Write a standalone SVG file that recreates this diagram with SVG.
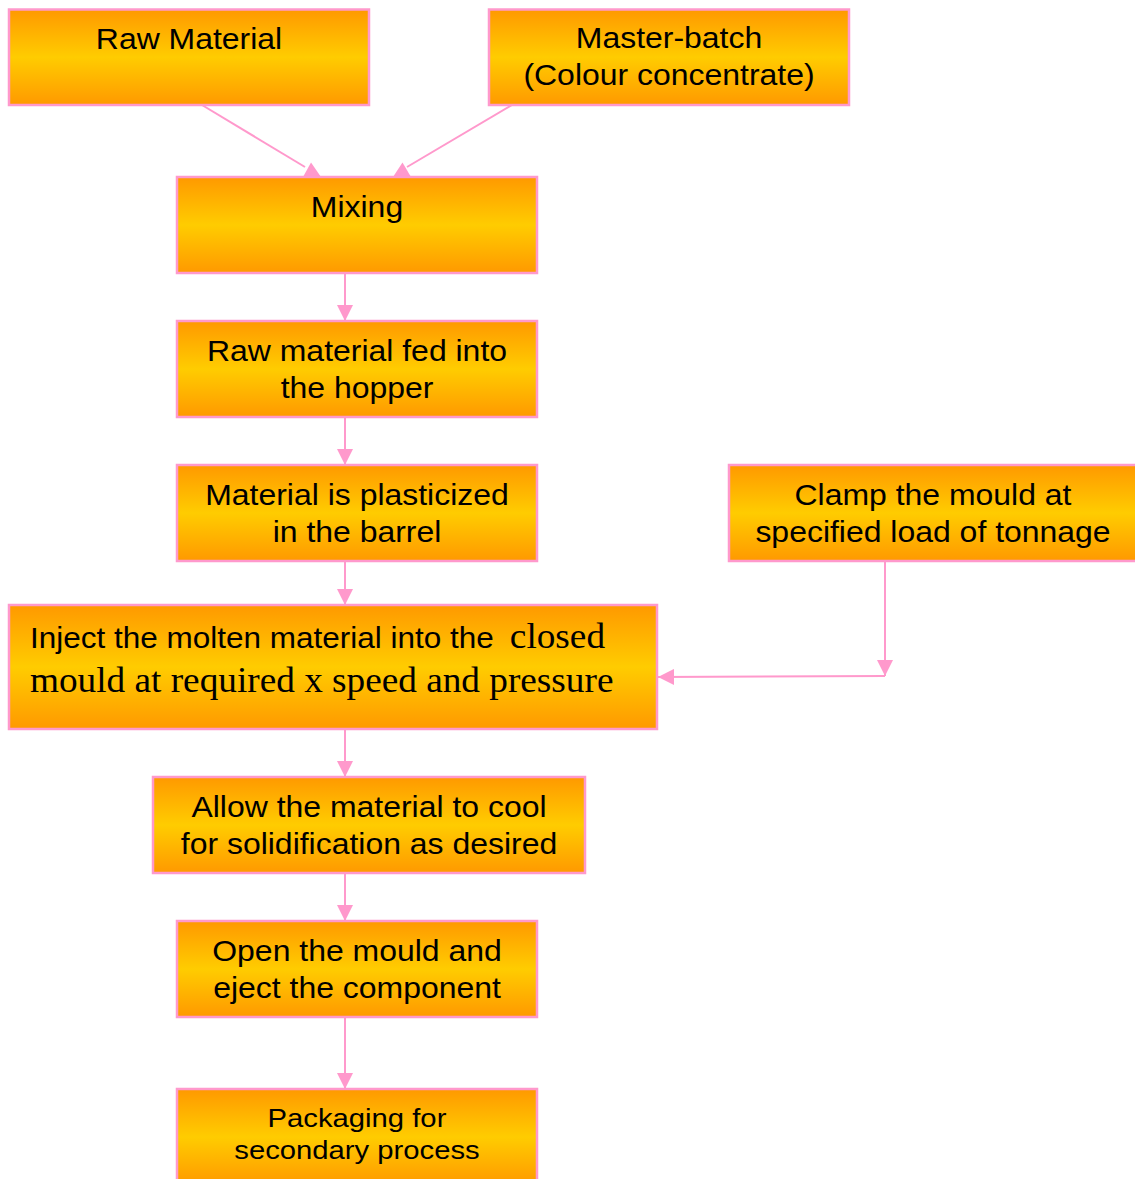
<svg xmlns="http://www.w3.org/2000/svg" xmlns:xlink="http://www.w3.org/1999/xlink" width="1135" height="1179" viewBox="0 0 1135 1179">
<defs>
<linearGradient id="gold" x1="0" y1="0" x2="0" y2="1">
<stop offset="0" stop-color="#ff9900"/>
<stop offset="0.5" stop-color="#ffcc00"/>
<stop offset="1" stop-color="#ff9900"/>
</linearGradient>
<marker id="arr" markerUnits="userSpaceOnUse" markerWidth="16" markerHeight="16" refX="16" refY="8" orient="auto">
<path d="M0,0 L16,8 L0,16 z" fill="#ff99cc"/>
</marker>
<style>
.box{fill:url(#gold);stroke:#ff99cc;stroke-width:2.5}
.t{font-family:"Liberation Sans",Arial,sans-serif;font-size:30px;fill:#000;text-anchor:middle}
.ts{font-family:"Liberation Sans",Arial,sans-serif;font-size:30px;fill:#000}
.sr{font-family:"Liberation Serif","Times New Roman",serif;font-size:35.5px;fill:#000}
.c{fill:none;stroke:#ff99cc;stroke-width:2}
.a{marker-end:url(#arr)}
.tri{fill:#ff99cc}
</style>
</defs>
<g id="connectors">
<line class="c" x1="202" y1="105" x2="305" y2="167"/>
<polygon class="tri" points="303,177 311,162.5 321,177"/>
<line class="c" x1="512" y1="105" x2="407" y2="167"/>
<polygon class="tri" points="393,177 402.5,162.5 411,177"/>
<line class="c a" x1="345" y1="273" x2="345" y2="321"/>
<line class="c a" x1="345" y1="417" x2="345" y2="465"/>
<line class="c a" x1="345" y1="561" x2="345" y2="605"/>
<line class="c a" x1="345" y1="729" x2="345" y2="777"/>
<line class="c a" x1="345" y1="873" x2="345" y2="921"/>
<line class="c a" x1="345" y1="1017" x2="345" y2="1089"/>
<line class="c a" x1="885" y1="557" x2="885" y2="676"/>
<line class="c a" x1="885" y1="676" x2="658" y2="677"/>
</g>
<g id="n1">
<rect class="box" x="9" y="9.5" width="360" height="95.5"/>
<text class="t" transform="translate(189 0) scale(1.065 1)" x="0" y="49">Raw Material</text>
</g>
<g id="n2">
<rect class="box" x="489" y="9.5" width="360" height="95.5"/>
<text class="t" transform="translate(669 0) scale(1.065 1)" x="0" y="48.5">Master-batch</text>
<text class="t" transform="translate(669 0) scale(1.065 1)" x="0" y="85.5">(Colour concentrate)</text>
</g>
<g id="n3">
<rect class="box" x="177" y="177" width="360" height="96"/>
<text class="t" transform="translate(357 0) scale(1.065 1)" x="0" y="217">Mixing</text>
</g>
<g id="n4">
<rect class="box" x="177" y="321" width="360" height="96"/>
<text class="t" transform="translate(357 0) scale(1.065 1)" x="0" y="361.5">Raw material fed into</text>
<text class="t" transform="translate(357 0) scale(1.065 1)" x="0" y="398.5">the hopper</text>
</g>
<g id="n5">
<rect class="box" x="177" y="465" width="360" height="96"/>
<text class="t" transform="translate(357 0) scale(1.065 1)" x="0" y="505.5">Material is plasticized</text>
<text class="t" transform="translate(357 0) scale(1.065 1)" x="0" y="542.5">in the barrel</text>
</g>
<g id="n6">
<rect class="box" x="729" y="465" width="408" height="96"/>
<text class="t" transform="translate(933 0) scale(1.065 1)" x="0" y="505.5">Clamp the mould at</text>
<text class="t" transform="translate(933 0) scale(1.065 1)" x="0" y="542.5">specified load of tonnage</text>
</g>
<g id="n7">
<rect class="box" x="9" y="605" width="648" height="124"/>
<text class="ts" transform="translate(30 0) scale(1.05 1)" x="0" y="648.5">Inject the molten material into the <tspan class="sr" x="457">closed</tspan></text>
<text class="sr" transform="translate(30 0) scale(1.05 1)" x="0" y="692">mould at required x speed and pressure</text>
</g>
<g id="n8">
<rect class="box" x="153" y="777" width="432" height="96"/>
<text class="t" transform="translate(369 0) scale(1.065 1)" x="0" y="817.5">Allow the material to cool</text>
<text class="t" transform="translate(369 0) scale(1.065 1)" x="0" y="854.5">for solidification as desired</text>
</g>
<g id="n9">
<rect class="box" x="177" y="921" width="360" height="96"/>
<text class="t" transform="translate(357 0) scale(1.065 1)" x="0" y="961.5">Open the mould and</text>
<text class="t" transform="translate(357 0) scale(1.065 1)" x="0" y="998.5">eject the component</text>
</g>
<g id="n10">
<rect class="box" x="177" y="1089" width="360" height="96"/>
<text class="t" style="font-size:26px" transform="translate(357 0) scale(1.125 1)" x="0" y="1127">Packaging for</text>
<text class="t" style="font-size:26px" transform="translate(357 0) scale(1.125 1)" x="0" y="1159">secondary process</text>
</g>
</svg>
